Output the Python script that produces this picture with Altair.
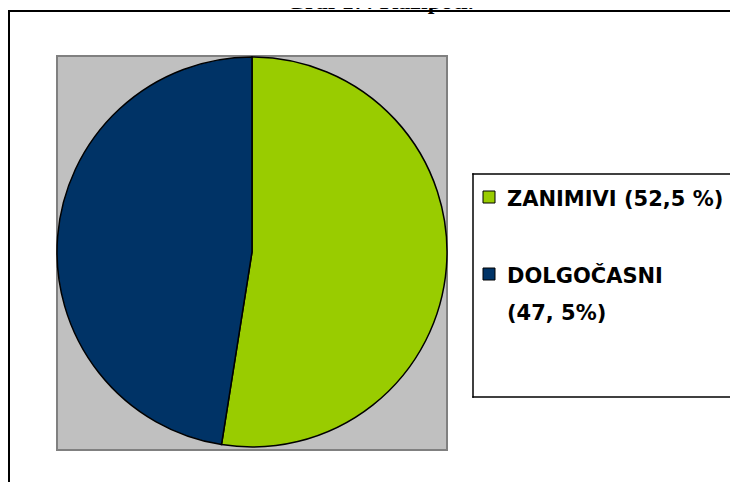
import altair as alt
import pandas as pd

title_text = "Graf 17: Kažipoti."
categories = ["ZANIMIVI", "DOLGOČASNI"]
values = [52.5, 47.5]
legend_labels = ["ZANIMIVI (52,5 %)", "DOLGOČASNI\n(47, 5%)"]
colors = ["#99CC00", "#003366"]

df = pd.DataFrame({
    "category": categories,
    "value": values,
    "label": legend_labels,
    "order": list(range(len(categories))),
})
one = pd.DataFrame({"k": [0]})

color = alt.Color("category:N", scale=alt.Scale(domain=categories, range=colors), legend=None)

# outer frame: only left and top edges are within the picture
frame_top = alt.Chart(one).mark_rule(color="black", strokeWidth=2).encode(
    x=alt.value(0), x2=alt.value(722), y=alt.value(3)
)
frame_left = alt.Chart(one).mark_rule(color="black", strokeWidth=2).encode(
    x=alt.value(1), y=alt.value(2), y2=alt.value(474)
)
plot_bg = alt.Chart(one).mark_rect(fill="#C0C0C0", stroke="#808080", strokeWidth=2).encode(
    x=alt.value(49), x2=alt.value(439), y=alt.value(48), y2=alt.value(442)
)
title = alt.Chart(one).mark_text(
    text=title_text, font="Liberation Serif", fontWeight="bold", fontSize=24,
    align="center", baseline="alphabetic", color="black"
).encode(x=alt.value(372), y=alt.value(1))

pie = alt.Chart(df).mark_arc(radius=195, stroke="black", strokeWidth=1.5).encode(
    theta=alt.Theta("value:Q", stack=True),
    order=alt.Order("order:Q"),
    color=color,
    x=alt.value(244),
    y=alt.value(244),
)

# legend box: left, top, bottom edges (right edge lies beyond the picture)
leg_top = alt.Chart(one).mark_rule(color="black", strokeWidth=1.5).encode(
    x=alt.value(464.25), x2=alt.value(722), y=alt.value(166)
)
leg_bottom = alt.Chart(one).mark_rule(color="black", strokeWidth=1.5).encode(
    x=alt.value(464.25), x2=alt.value(722), y=alt.value(389)
)
leg_left = alt.Chart(one).mark_rule(color="black", strokeWidth=1.5).encode(
    x=alt.value(465), y=alt.value(165.25), y2=alt.value(389.75)
)

yscale = alt.Scale(type="point", range=[189, 266], padding=0)
leg_sq = alt.Chart(df).mark_square(size=144, stroke="black", strokeWidth=1, opacity=1, filled=True).encode(
    x=alt.value(481),
    y=alt.Y("order:O", scale=yscale, axis=None),
    color=color,
)
leg_txt = alt.Chart(df).mark_text(
    font="DejaVu Sans", fontWeight="bold", fontSize=21, align="left", baseline="alphabetic",
    dy=9, lineBreak="\n", lineHeight=37, color="black"
).encode(
    x=alt.value(499),
    y=alt.Y("order:O", scale=yscale, axis=None),
    text="label:N",
)

chart = alt.layer(
    plot_bg, pie, leg_top, leg_bottom, leg_left, leg_sq, leg_txt, frame_top, frame_left, title
).properties(
    width=722, height=474, autosize="none", padding=0, background="white"
).configure_view(stroke=None)

chart.save("out.html", embed_options={"renderer": "svg", "actions": False})
